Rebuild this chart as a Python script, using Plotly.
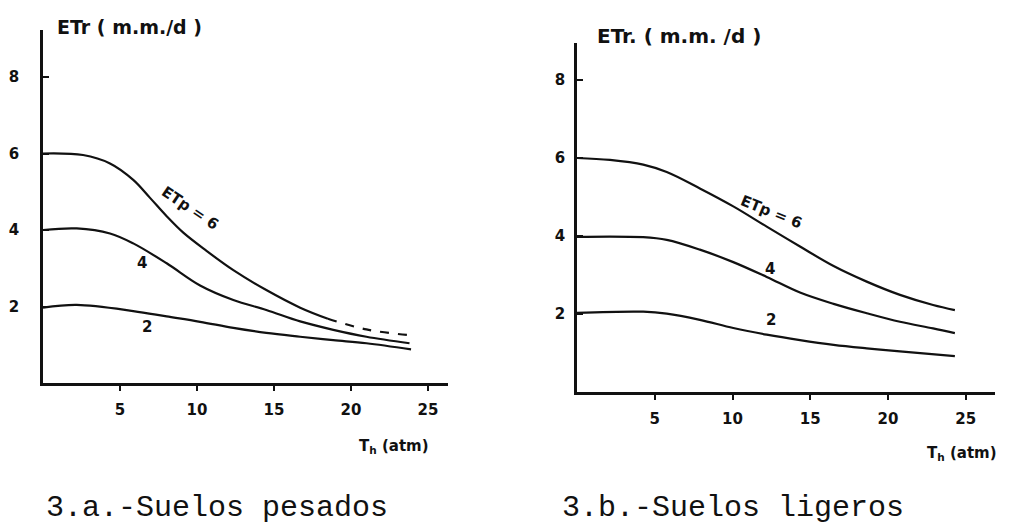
import plotly.graph_objects as go

W, H = 1026, 527

# ---- data: panel a (suelos pesados) ----
xa6 = [0, 2.6, 4.35, 5.86, 6.95, 8.03, 9.11, 10.6, 12.36, 14.5, 16.7, 18.5]
ya6 = [6.0, 5.96, 5.74, 5.31, 4.84, 4.36, 3.93, 3.46, 2.95, 2.43, 1.97, 1.68]
xa6d = [18.5, 21.0, 23.8]
ya6d = [1.68, 1.40, 1.25]
xa4 = [0, 2.19, 4.35, 5.86, 8.03, 10.2, 12.36, 14.5, 16.7, 18.85, 21.0, 23.8]
ya4 = [4.0, 4.04, 3.91, 3.65, 3.13, 2.55, 2.17, 1.91, 1.61, 1.39, 1.21, 1.04]
xa2 = [0, 2.19, 5.86, 8.03, 10.2, 12.36, 14.5, 16.7, 18.85, 21.0, 23.9]
ya2 = [1.97, 2.04, 1.88, 1.74, 1.60, 1.44, 1.31, 1.21, 1.12, 1.04, 0.88]

# ---- data: panel b (suelos ligeros) ----
xb6 = [0, 2.12, 4.26, 5.77, 7.9, 10.05, 12.2, 14.34, 16.5, 18.63, 20.77, 22.9, 24.3]
yb6 = [6.0, 5.95, 5.83, 5.64, 5.22, 4.76, 4.24, 3.73, 3.23, 2.83, 2.49, 2.23, 2.10]
xb4 = [0, 4.26, 5.77, 7.9, 10.05, 12.2, 14.34, 16.5, 18.63, 20.77, 22.9, 24.3]
yb4 = [3.98, 3.97, 3.90, 3.65, 3.33, 2.95, 2.55, 2.26, 2.02, 1.80, 1.63, 1.51]
xb2 = [0, 4.26, 5.77, 7.9, 10.05, 12.2, 14.34, 16.5, 18.63, 20.77, 24.3]
yb2 = [2.03, 2.06, 2.01, 1.85, 1.64, 1.47, 1.33, 1.21, 1.12, 1.04, 0.92]

xticks = [5, 10, 15, 20, 25]
xticklabels = ["5", "10", "15", "20", "25"]
yticks = [2, 4, 6, 8]
yticklabels = ["2", "4", "6", "8"]

HAND = "DejaVu Sans"
INK = "#111111"

fig = go.Figure()

def line(x, y, xa, ya, dash="solid"):
    fig.add_trace(go.Scatter(x=x, y=y, mode="lines", xaxis=xa, yaxis=ya,
                             line=dict(color=INK, width=2.2, shape="spline",
                                       smoothing=1.0, dash=dash),
                             showlegend=False, hoverinfo="skip"))

line(xa6, ya6, "x", "y")
line(xa6d, ya6d, "x", "y", dash="dash")
line(xa4, ya4, "x", "y")
line(xa2, ya2, "x", "y")
line(xb6, yb6, "x2", "y2")
line(xb4, yb4, "x2", "y2")
line(xb2, yb2, "x2", "y2")

def px2fx(p):
    return p / W

def px2fy(p):
    return 1 - p / H

axis_common = dict(showgrid=False, zeroline=False, showline=True,
                   linecolor=INK, linewidth=2.5, tickcolor=INK,
                   tickfont=dict(family=HAND, size=15, color=INK, weight="bold"))

fig.update_layout(
    width=W, height=H, margin=dict(l=0, r=0, t=0, b=0),
    paper_bgcolor="white", plot_bgcolor="white", showlegend=False,
    xaxis=dict(domain=[px2fx(43), px2fx(448)], range=[0, (448 - 43) / 15.4],
               anchor="y", tickvals=xticks, ticktext=xticklabels,
               ticks="outside", ticklen=5, tickwidth=2, ticklabelstandoff=6,
               **axis_common),
    yaxis=dict(domain=[px2fy(383), px2fy(30)], range=[0, (383 - 30) / 38.25],
               anchor="x", tickvals=yticks, ticktext=yticklabels,
               ticks="inside", ticklen=6, tickwidth=2, ticklabelstandoff=18,
               **axis_common),
    xaxis2=dict(domain=[px2fx(577), px2fx(995)], range=[0, (995 - 577) / 15.55],
                anchor="y2", tickvals=xticks, ticktext=xticklabels,
                ticks="outside", ticklen=5, tickwidth=2, ticklabelstandoff=6,
                **axis_common),
    yaxis2=dict(domain=[px2fy(392), px2fy(43)], range=[0, (392 - 43) / 39.0],
                anchor="x2", tickvals=yticks, ticktext=yticklabels,
                ticks="inside", ticklen=6, tickwidth=2, ticklabelstandoff=6,
                **axis_common),
)

ann = []
def txt(text, x, y, xref="paper", yref="paper", size=15, angle=0,
        xanchor="center", family=HAND, bold=True):
    t = "<b>" + text + "</b>" if bold else text
    ann.append(dict(text=t, x=x, y=y, xref=xref, yref=yref, showarrow=False,
                    textangle=angle, xanchor=xanchor, yanchor="middle",
                    font=dict(family=family, size=size, color=INK)))

# axis titles
txt("ETr ( m.m./d )", px2fx(55), px2fy(27), xanchor="left", size=19)
txt("ETr. ( m.m. /d )", px2fx(595), px2fy(36), xanchor="left", size=20)
txt("T<sub>h</sub> (atm)", px2fx(357), px2fy(446), xanchor="left", size=15)
txt("T<sub>h</sub> (atm)", px2fx(925), px2fy(453), xanchor="left", size=15)

# curve labels
txt("ETp = 6", 9.55, 4.58, "x", "y", size=15, angle=34)
txt("4", 6.4, 3.14, "x", "y", size=15)
txt("2", 6.75, 1.46, "x", "y", size=15)
txt("ETp = 6", 12.5, 4.62, "x2", "y2", size=15, angle=22)
txt("4", 12.4, 3.15, "x2", "y2", size=15)
txt("2", 12.5, 1.84, "x2", "y2", size=15)

# captions
txt("3.a.-Suelos pesados", px2fx(44), px2fy(508), xanchor="left", size=30,
    family="Liberation Mono", bold=False)
txt("3.b.-Suelos ligeros", px2fx(560), px2fy(508), xanchor="left", size=30,
    family="Liberation Mono", bold=False)

fig.update_layout(annotations=ann)
fig.write_html("out.html")
